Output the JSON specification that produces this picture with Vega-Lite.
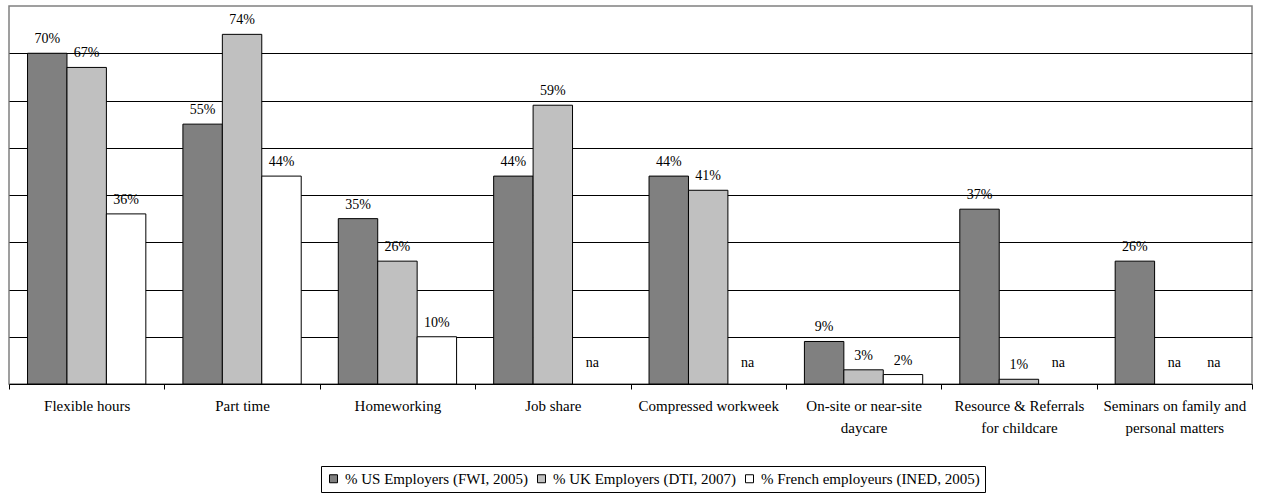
{
  "$schema": "https://vega.github.io/schema/vega-lite/v6.json",
  "width": 1243,
  "height": 378,
  "padding": {"left": 8, "top": 6, "right": 5, "bottom": 2},
  "background": "white",
  "config": {
    "font": "'Liberation Serif', 'Times New Roman', 'DejaVu Serif', serif",
    "view": {"stroke": "#808080", "strokeWidth": 1.5}
  },
  "data": {
    "values": [
      {"category": "Flexible hours", "series": "% US Employers (FWI, 2005)", "value": 0.70},
      {"category": "Flexible hours", "series": "% UK Employers (DTI, 2007)", "value": 0.67},
      {"category": "Flexible hours", "series": "% French employeurs (INED, 2005)", "value": 0.36},
      {"category": "Part time", "series": "% US Employers (FWI, 2005)", "value": 0.55},
      {"category": "Part time", "series": "% UK Employers (DTI, 2007)", "value": 0.74},
      {"category": "Part time", "series": "% French employeurs (INED, 2005)", "value": 0.44},
      {"category": "Homeworking", "series": "% US Employers (FWI, 2005)", "value": 0.35},
      {"category": "Homeworking", "series": "% UK Employers (DTI, 2007)", "value": 0.26},
      {"category": "Homeworking", "series": "% French employeurs (INED, 2005)", "value": 0.10},
      {"category": "Job share", "series": "% US Employers (FWI, 2005)", "value": 0.44},
      {"category": "Job share", "series": "% UK Employers (DTI, 2007)", "value": 0.59},
      {"category": "Job share", "series": "% French employeurs (INED, 2005)", "value": null},
      {"category": "Compressed workweek", "series": "% US Employers (FWI, 2005)", "value": 0.44},
      {"category": "Compressed workweek", "series": "% UK Employers (DTI, 2007)", "value": 0.41},
      {"category": "Compressed workweek", "series": "% French employeurs (INED, 2005)", "value": null},
      {"category": "On-site or near-site daycare", "series": "% US Employers (FWI, 2005)", "value": 0.09},
      {"category": "On-site or near-site daycare", "series": "% UK Employers (DTI, 2007)", "value": 0.03},
      {"category": "On-site or near-site daycare", "series": "% French employeurs (INED, 2005)", "value": 0.02},
      {"category": "Resource & Referrals for childcare", "series": "% US Employers (FWI, 2005)", "value": 0.37},
      {"category": "Resource & Referrals for childcare", "series": "% UK Employers (DTI, 2007)", "value": 0.01},
      {"category": "Resource & Referrals for childcare", "series": "% French employeurs (INED, 2005)", "value": null},
      {"category": "Seminars on family and personal matters", "series": "% US Employers (FWI, 2005)", "value": 0.26},
      {"category": "Seminars on family and personal matters", "series": "% UK Employers (DTI, 2007)", "value": null},
      {"category": "Seminars on family and personal matters", "series": "% French employeurs (INED, 2005)", "value": null}
    ]
  },
  "encoding": {
    "x": {
      "field": "category",
      "type": "nominal",
      "sort": null,
      "scale": {"paddingInner": 0, "paddingOuter": 0},
      "axis": {
        "title": null,
        "labelAngle": 0,
        "tickBand": "extent",
        "tickSize": 5,
        "tickColor": "black",
        "domainColor": "black",
        "labelColor": "black",
        "labelFontSize": 15,
        "labelPadding": 9,
        "labelLineHeight": 22,
        "labelLimit": 0,
        "grid": false,
        "labelExpr": "datum.label == 'On-site or near-site daycare' ? ['On-site or near-site', 'daycare'] : datum.label == 'Resource & Referrals for childcare' ? ['Resource & Referrals', 'for childcare'] : datum.label == 'Seminars on family and personal matters' ? ['Seminars on family and', 'personal matters'] : datum.label"
      }
    },
    "xOffset": {
      "field": "series",
      "type": "nominal",
      "scale": {
        "domain": ["% US Employers (FWI, 2005)", "% UK Employers (DTI, 2007)", "% French employeurs (INED, 2005)"],
        "paddingInner": 0,
        "paddingOuter": 0.47
      }
    }
  },
  "layer": [
    {
      "mark": {"type": "bar", "stroke": "black", "strokeWidth": 1},
      "encoding": {
        "y": {
          "field": "value",
          "type": "quantitative",
          "scale": {"domain": [0, 0.8], "nice": false},
          "axis": {
            "title": null,
            "labels": false,
            "ticks": false,
            "domain": false,
            "grid": true,
            "gridColor": "black",
            "gridWidth": 1,
            "gridOpacity": 1,
            "values": [0.1, 0.2, 0.3, 0.4, 0.5, 0.6, 0.7]
          }
        },
        "fill": {
          "field": "series",
          "type": "nominal",
          "scale": {
            "domain": ["% US Employers (FWI, 2005)", "% UK Employers (DTI, 2007)", "% French employeurs (INED, 2005)"],
            "range": ["#808080", "#C0C0C0", "#FFFFFF"]
          },
          "legend": {
            "title": null,
            "orient": "none",
            "legendX": 312,
            "legendY": 460,
            "direction": "horizontal",
            "symbolType": "square",
            "symbolSize": 64,
            "symbolStrokeColor": "black",
            "symbolStrokeWidth": 1,
            "symbolOpacity": 1,
            "labelFontSize": 15,
            "labelColor": "black",
            "labelLimit": 0,
            "strokeColor": "black",
            "padding": 5,
            "columnPadding": 6,
            "labelOffset": 4
          }
        }
      }
    },
    {
      "transform": [{"filter": "datum.value != null"}],
      "mark": {"type": "text", "dy": -14, "fontSize": 14, "baseline": "middle", "color": "black"},
      "encoding": {
        "y": {"field": "value", "type": "quantitative"},
        "text": {"field": "value", "type": "quantitative", "format": ".0%"}
      }
    },
    {
      "transform": [{"filter": "datum.value == null"}],
      "mark": {"type": "text", "dy": -21, "fontSize": 14, "baseline": "middle", "color": "black", "text": "na"},
      "encoding": {
        "y": {"datum": 0, "type": "quantitative"}
      }
    }
  ]
}
